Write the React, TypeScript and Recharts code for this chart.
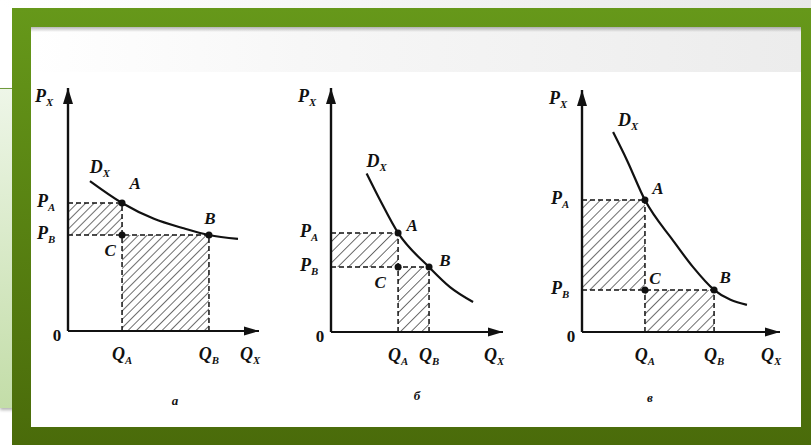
import React from "react";
import {
  ComposedChart,
  Line,
  XAxis,
  YAxis,
  ReferenceArea,
  ReferenceLine,
  ReferenceDot,
} from "recharts";

// ---------- data ----------
// demand curves D_X, points as (quantity, price) in axis units 0..10
const curveA = [
  { q: 1.15, p: 6.17 },
  { q: 2.83, p: 5.27 },
  { q: 4.5, p: 4.62 },
  { q: 6.0, p: 4.24 },
  { q: 7.38, p: 3.95 },
  { q: 8.9, p: 3.79 },
];
const curveB = [
  { q: 2.07, p: 6.5 },
  { q: 2.85, p: 5.41 },
  { q: 3.9, p: 4.06 },
  { q: 5.7, p: 2.66 },
  { q: 6.92, p: 1.84 },
  { q: 8.26, p: 1.23 },
];
const curveC = [
  { q: 1.57, p: 8.26 },
  { q: 2.27, p: 7.1 },
  { q: 3.18, p: 5.45 },
  { q: 4.6, p: 3.78 },
  { q: 5.6, p: 2.69 },
  { q: 6.67, p: 1.74 },
  { q: 8.33, p: 1.12 },
];
// [Q_A, Q_B] and [P_A, P_B]
const quantitiesA = [2.83, 7.38];
const pricesA = [5.27, 3.95];
const quantitiesB = [3.9, 5.7];
const pricesB = [4.06, 2.66];
const quantitiesC = [3.18, 6.67];
const pricesC = [5.45, 1.74];

// tick labels
const xTickLabels = [["Q", "A"], ["Q", "B"]];
const yTickLabels = [["0", ""], ["P", "A"], ["P", "B"]];
const pointNames = ["A", "B", "C"];
const curveName = ["D", "X"];
const xAxisName = ["Q", "X"];
const yAxisName = ["P", "X"];
const captions = ["а", "б", "в"];

// ---------- layout (pixels) ----------
type Lay = {
  ox: number; oy: number; xr: number; yt: number;
  cap: number[]; lA: number[]; lB: number[]; lC: number[]; lD: number[];
  hatch: string;
};
const layA: Lay = { ox: 68, oy: 331, xr: 259, yt: 88, cap: [107, 69], lA: [13, -20], lB: [1, -17], lC: [-12, 15], lD: [10, -14], hatch: "hatchA" };
const layB: Lay = { ox: 331, oy: 332, xr: 503, yt: 88, cap: [86, 63], lA: [14, -8], lB: [16, -7], lC: [-18, 15], lD: [10, -13], hatch: "hatchB" };
const layC: Lay = { ox: 582, oy: 332, xr: 780, yt: 90, cap: [68, 65], lA: [13, -12], lB: [11, -13], lC: [10, -12], lD: [15, -12], hatch: "hatchC" };

const FONT = "'Liberation Serif', 'DejaVu Serif', serif";
const INK = "#111111";

function SubText({ x, y, main, sub, size = 18, italic = true, anchor = "middle" }: any) {
  return (
    <text
      x={x}
      y={y + size * 0.35}
      textAnchor={anchor}
      fontFamily={FONT}
      fontStyle={italic ? "italic" : "normal"}
      fontWeight="bold"
      fontSize={size}
      fill={INK}
    >
      {main}
      {sub ? (
        <tspan fontSize={size * 0.6} dy={size * 0.22}>
          {sub}
        </tspan>
      ) : null}
    </text>
  );
}

const dotLabel = (off: number[], main: string, sub = "", size = 17) => (props: any) => {
  const vb = props.viewBox || {};
  const cx = (vb.x || 0) + (vb.width || 0) / 2;
  const cy = (vb.y || 0) + (vb.height || 0) / 2;
  return <SubText x={cx + off[0]} y={cy + off[1]} main={main} sub={sub} size={size} />;
};

const arrowRight = (p: any) => (
  <polygon points={`${p.cx},${p.cy} ${p.cx - 15},${p.cy - 4.5} ${p.cx - 15},${p.cy + 4.5}`} fill={INK} />
);
const arrowUp = (p: any) => (
  <polygon points={`${p.cx},${p.cy} ${p.cx - 5},${p.cy + 16} ${p.cx + 5},${p.cy + 16}`} fill={INK} />
);

function Panel({ curve, q, p, caption, lay }: { curve: any[]; q: number[]; p: number[]; caption: string; lay: Lay }) {
  const PT = 30, PR = 30, YW = 50, XH = 90;
  const w = YW + (lay.xr - lay.ox) + PR;
  const h = PT + (lay.oy - lay.yt) + XH;
  const oxL = YW;
  const oyL = PT + (lay.oy - lay.yt);
  const xrL = YW + (lay.xr - lay.ox);
  const [QA, QB] = q;
  const [PA, PB] = p;
  const dash = "5 3";
  const dashW = 1.5;

  const xTick = (props: any) => {
    const lbl = xTickLabels[props.index] || ["", ""];
    return <SubText x={props.x} y={oyL + 23} main={lbl[0]} sub={lbl[1]} />;
  };
  const yTick = (props: any) => {
    const lbl = yTickLabels[props.index] || ["", ""];
    if (props.index === 0) {
      return <SubText x={oxL - 11} y={oyL + 4} main={lbl[0]} italic={false} size={17} />;
    }
    return <SubText x={oxL - 22} y={props.y - 2} main={lbl[0]} sub={lbl[1]} />;
  };
  const xLabel = () => (
    <g>
      <SubText x={xrL - 9} y={oyL + 23} main={xAxisName[0]} sub={xAxisName[1]} />
      <SubText x={oxL + lay.cap[0]} y={oyL + lay.cap[1]} main={caption} size={13} />
    </g>
  );
  const yLabel = () => (
    <SubText x={oxL - 24} y={PT + 8} main={yAxisName[0]} sub={yAxisName[1]} />
  );

  return (
    <div style={{ position: "absolute", left: lay.ox - YW, top: lay.yt - PT }}>
      <ComposedChart width={w} height={h} data={curve} margin={{ top: PT, right: PR, left: 0, bottom: 0 }}>
        <XAxis
          dataKey="q"
          type="number"
          domain={[0, 10]}
          allowDataOverflow
          ticks={q}
          interval={0}
          tickLine={false}
          axisLine={{ stroke: INK, strokeWidth: 2 }}
          height={XH}
          tick={xTick}
          label={{ content: xLabel }}
        />
        <YAxis
          type="number"
          domain={[0, 10]}
          allowDataOverflow
          ticks={[0, PA, PB]}
          interval={0}
          tickLine={false}
          axisLine={{ stroke: INK, strokeWidth: 2.4 }}
          width={YW}
          tick={yTick}
          label={{ content: yLabel }}
        />
        <ReferenceArea x1={0} x2={QA} y1={PB} y2={PA} fill={`url(#${lay.hatch})`} fillOpacity={1} stroke="none" />
        <ReferenceArea x1={QA} x2={QB} y1={0} y2={PB} fill={`url(#${lay.hatch})`} fillOpacity={1} stroke="none" />
        <ReferenceLine segment={[{ x: 0, y: PA }, { x: QA, y: PA }]} stroke={INK} strokeWidth={dashW} strokeDasharray={dash} />
        <ReferenceLine segment={[{ x: 0, y: PB }, { x: QB, y: PB }]} stroke={INK} strokeWidth={dashW} strokeDasharray={dash} />
        <ReferenceLine segment={[{ x: QA, y: 0 }, { x: QA, y: PA }]} stroke={INK} strokeWidth={dashW} strokeDasharray={dash} />
        <ReferenceLine segment={[{ x: QB, y: 0 }, { x: QB, y: PB }]} stroke={INK} strokeWidth={dashW} strokeDasharray={dash} />
        <Line
          dataKey="p"
          type="monotone"
          stroke={INK}
          strokeWidth={2.2}
          dot={false}
          activeDot={false}
          isAnimationActive={false}
        />
        <ReferenceDot x={QA} y={PA} r={3.5} fill={INK} stroke="none" label={{ content: dotLabel(lay.lA, pointNames[0]) }} />
        <ReferenceDot x={QB} y={PB} r={3.5} fill={INK} stroke="none" label={{ content: dotLabel(lay.lB, pointNames[1]) }} />
        <ReferenceDot x={QA} y={PB} r={3.5} fill={INK} stroke="none" label={{ content: dotLabel(lay.lC, pointNames[2]) }} />
        <ReferenceDot
          x={curve[0].q}
          y={curve[0].p}
          r={1}
          fill="none"
          stroke="none"
          label={{ content: dotLabel(lay.lD, curveName[0], curveName[1], 18) }}
        />
        <ReferenceDot x={10} y={0} r={1} shape={arrowRight} />
        <ReferenceDot x={0} y={10} r={1} shape={arrowUp} />
      </ComposedChart>
    </div>
  );
}

export default function App() {
  return (
    <div style={{ position: "absolute", left: 0, top: 0, width: 811, height: 445, background: "#fff", overflow: "hidden" }}>
      <svg width="0" height="0" style={{ position: "absolute" }}>
        <defs>
          <pattern id="hatchA" patternUnits="userSpaceOnUse" width="6" height="6" patternTransform="rotate(45)">
            <line x1="0" y1="0" x2="0" y2="6" stroke="#1e1e1e" strokeWidth="1.3" />
          </pattern>
          <pattern id="hatchB" patternUnits="userSpaceOnUse" width="7.5" height="7.5" patternTransform="rotate(45)">
            <line x1="0" y1="0" x2="0" y2="7.5" stroke="#1e1e1e" strokeWidth="1.3" />
          </pattern>
          <pattern id="hatchC" patternUnits="userSpaceOnUse" width="7" height="7" patternTransform="rotate(45)">
            <line x1="0" y1="0" x2="0" y2="7" stroke="#1e1e1e" strokeWidth="1.3" />
          </pattern>
        </defs>
      </svg>
      <div style={{ position: "absolute", left: 0, top: 0, width: 811, height: 8, background: "linear-gradient(to right, #ffffff 0%, #f6f6f6 40%, #e8e8e8 100%)" }} />
      <div style={{ position: "absolute", left: 0, top: 88, width: 40, height: 319, background: "linear-gradient(#eef6e8, #c3dda8)", borderTop: "1px solid #6f9a3c", boxShadow: "0 2px 3px rgba(0,0,0,0.3)" }} />
      <div style={{ position: "absolute", left: 12, top: 8, width: 799, height: 437, background: "linear-gradient(#66981a, #4a6b0a)" }} />
      <div style={{ position: "absolute", left: 31, top: 27, width: 770, height: 400, background: "#fff" }} />
      <div style={{ position: "absolute", left: 31, top: 27, width: 770, height: 45, background: "linear-gradient(to right, #ffffff 0%, #f7f7f7 35%, #ececec 100%)" }} />
      <div style={{ position: "absolute", left: 31, top: 27, width: 770, height: 5, background: "linear-gradient(rgba(0,0,0,0.28), rgba(0,0,0,0))" }} />
      <Panel curve={curveA} q={quantitiesA} p={pricesA} caption={captions[0]} lay={layA} />
      <Panel curve={curveB} q={quantitiesB} p={pricesB} caption={captions[1]} lay={layB} />
      <Panel curve={curveC} q={quantitiesC} p={pricesC} caption={captions[2]} lay={layC} />
    </div>
  );
}
